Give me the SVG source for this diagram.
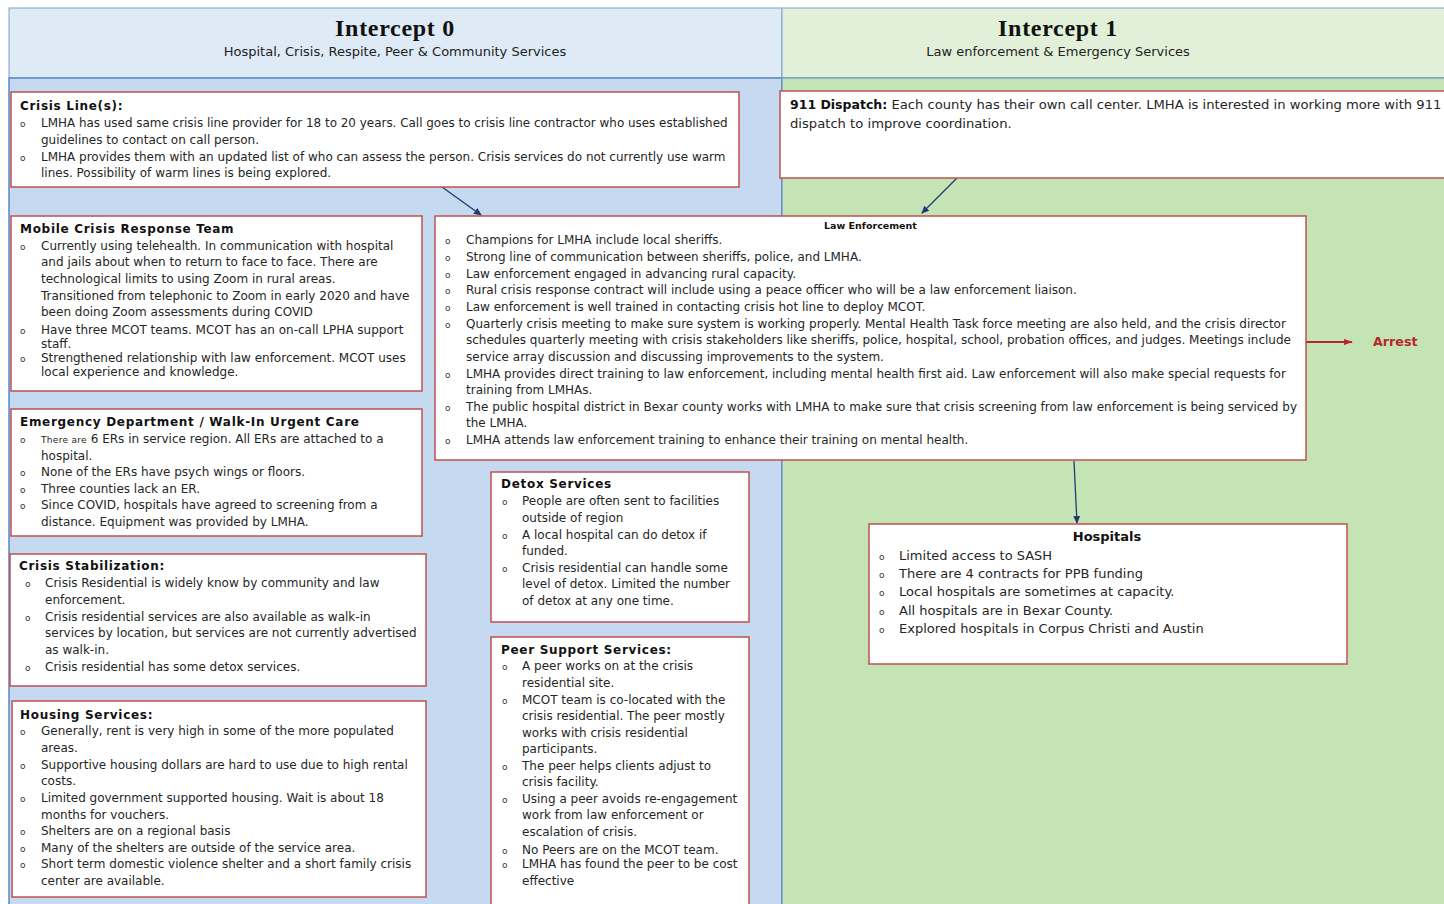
<svg xmlns="http://www.w3.org/2000/svg" width="1444" height="904" viewBox="0 0 1444 904">
<style>
.t{font-family:"DejaVu Sans",Verdana,sans-serif;font-size:12px;fill:#262626}
.b{font-weight:bold;fill:#111;letter-spacing:.7px}
.o{font-family:"DejaVu Sans",sans-serif;font-size:9px;fill:#333}
.box{fill:#fff;stroke:#c0504d;stroke-width:1.5}
.hd{font-family:"Liberation Serif","Times New Roman",serif;font-weight:bold;font-size:24px;letter-spacing:.7px;fill:#111;text-anchor:middle}
.sub{font-family:"DejaVu Sans",Verdana,sans-serif;font-size:13px;fill:#222;text-anchor:middle}
.h{font-size:13px}
</style>
<defs>
<marker id="ab" markerWidth="8" markerHeight="8" refX="7" refY="4" orient="auto" markerUnits="userSpaceOnUse"><path d="M0,0.5 L8,4 L0,7.5 z" fill="#1f3b73"/></marker>
<marker id="ar" markerWidth="9" markerHeight="8" refX="8" refY="4" orient="auto" markerUnits="userSpaceOnUse"><path d="M0,1 L9,4 L0,7 z" fill="#b8262c"/></marker>
</defs>
<rect width="1444" height="904" fill="#fff"/>
<g id="lanes">
<rect x="9" y="8" width="773" height="70" fill="#deebf7" stroke="#7f9fcb" stroke-width="1"/>
<rect x="9" y="78" width="773" height="830" fill="#c5daf0" stroke="#5b86c4" stroke-width="1.5"/>
<rect x="782" y="8" width="672" height="70" fill="#e2f0d9" stroke="#7f9fcb" stroke-width="1"/>
<rect x="782" y="78" width="672" height="830" fill="#c5e4b5" stroke="#5b86c4" stroke-width="1"/>
<text class="hd" x="395" y="36">Intercept 0</text>
<text class="sub" x="395" y="56">Hospital, Crisis, Respite, Peer &amp; Community Services</text>
<text class="hd" x="1058" y="36">Intercept 1</text>
<text class="sub" x="1058" y="56">Law enforcement &amp; Emergency Services</text>
</g>
<g id="connectors" fill="none">
<line x1="442" y1="187" x2="481" y2="215" stroke="#1f3b73" stroke-width="1.3" marker-end="url(#ab)"/>
<line x1="957" y1="178" x2="922" y2="213" stroke="#1f3b73" stroke-width="1.3" marker-end="url(#ab)"/>
<line x1="1074" y1="461" x2="1077" y2="523" stroke="#1f3b73" stroke-width="1.3" marker-end="url(#ab)"/>
<line x1="1306" y1="342" x2="1352" y2="342" stroke="#b8262c" stroke-width="2" marker-end="url(#ar)"/>
</g>
<g id="crisis-line">
<rect class="box" x="11" y="92" width="728" height="95"/>
<text class="t b" x="20" y="110">Crisis Line(s):</text>
<text class="o" x="20" y="127">o</text><text class="t" x="41" y="127" style="font-size:11.95px">LMHA has used same crisis line provider for 18 to 20 years. Call goes to crisis line contractor who uses established</text>
<text class="t" x="41" y="144">guidelines to contact on call person.</text>
<text class="o" x="20" y="161">o</text><text class="t" x="41" y="161">LMHA provides them with an updated list of who can assess the person. Crisis services do not currently use warm</text>
<text class="t" x="41" y="177">lines. Possibility of warm lines is being explored.</text>
</g>
<g id="mobile-crisis">
<rect class="box" x="11" y="216" width="411" height="175"/>
<text class="t b" x="20" y="233">Mobile Crisis Response Team</text>
<text class="o" x="20" y="250">o</text><text class="t" x="41" y="250">Currently using telehealth. In communication with hospital</text>
<text class="t" x="41" y="266">and jails about when to return to face to face. There are</text>
<text class="t" x="41" y="283">technological limits to using Zoom in rural areas.</text>
<text class="t" x="41" y="300">Transitioned from telephonic to Zoom in early 2020 and have</text>
<text class="t" x="41" y="316">been doing Zoom assessments during COVID</text>
<text class="o" x="20" y="334">o</text><text class="t" x="41" y="334">Have three MCOT teams. MCOT has an on-call LPHA support</text>
<text class="t" x="41" y="348">staff.</text>
<text class="o" x="20" y="362">o</text><text class="t" x="41" y="362">Strengthened relationship with law enforcement. MCOT uses</text>
<text class="t" x="41" y="376">local experience and knowledge.</text>
</g>
<g id="emergency-department">
<rect class="box" x="11" y="409" width="411" height="127"/>
<text class="t b" x="20" y="426">Emergency Department / Walk-In Urgent Care</text>
<text class="o" x="20" y="443">o</text><text class="t" x="41" y="443"><tspan font-size="9" letter-spacing="0.3">There are</tspan> 6 ERs in service region.  All ERs are attached to a</text>
<text class="t" x="41" y="460">hospital.</text>
<text class="o" x="20" y="476">o</text><text class="t" x="41" y="476">None of the ERs have psych wings or floors.</text>
<text class="o" x="20" y="493">o</text><text class="t" x="41" y="493">Three counties lack an ER.</text>
<text class="o" x="20" y="509">o</text><text class="t" x="41" y="509">Since COVID, hospitals have agreed to screening from a</text>
<text class="t" x="41" y="526">distance. Equipment was provided by LMHA.</text>
</g>
<g id="crisis-stabilization">
<rect class="box" x="10" y="554" width="416" height="132"/>
<text class="t b" x="19" y="570">Crisis Stabilization:</text>
<text class="o" x="25" y="587">o</text><text class="t" x="45" y="587">Crisis Residential is widely know by community and law</text>
<text class="t" x="45" y="604">enforcement.</text>
<text class="o" x="25" y="621">o</text><text class="t" x="45" y="621">Crisis residential services are also available as walk-in</text>
<text class="t" x="45" y="637">services by location, but services are not currently advertised</text>
<text class="t" x="45" y="654">as walk-in.</text>
<text class="o" x="25" y="671">o</text><text class="t" x="45" y="671">Crisis residential has some detox services.</text>
</g>
<g id="housing">
<rect class="box" x="12" y="701" width="414" height="196"/>
<text class="t b" x="20" y="719">Housing Services:</text>
<text class="o" x="20" y="735">o</text><text class="t" x="41" y="735">Generally, rent is very high in some of the more populated</text>
<text class="t" x="41" y="752">areas.</text>
<text class="o" x="20" y="769">o</text><text class="t" x="41" y="769">Supportive housing dollars are hard to use due to high rental</text>
<text class="t" x="41" y="785">costs.</text>
<text class="o" x="20" y="802">o</text><text class="t" x="41" y="802">Limited government supported housing. Wait is about 18</text>
<text class="t" x="41" y="819">months for vouchers.</text>
<text class="o" x="20" y="835">o</text><text class="t" x="41" y="835">Shelters are on a regional basis</text>
<text class="o" x="20" y="852">o</text><text class="t" x="41" y="852">Many of the shelters are outside of the service area.</text>
<text class="o" x="20" y="868">o</text><text class="t" x="41" y="868">Short term domestic violence shelter and a short family crisis</text>
<text class="t" x="41" y="885">center are available.</text>
</g>
<g id="law-enforcement">
<rect class="box" x="435" y="216" width="871" height="244"/>
<text class="t b" x="824" y="229" style="font-size:9.5px;letter-spacing:0">Law Enforcement</text>
<text class="o" x="445" y="244">o</text><text class="t" x="466" y="244">Champions for LMHA include local sheriffs.</text>
<text class="o" x="445" y="261">o</text><text class="t" x="466" y="261">Strong line of communication between sheriffs, police, and LMHA.</text>
<text class="o" x="445" y="278">o</text><text class="t" x="466" y="278">Law enforcement engaged in advancing rural capacity.</text>
<text class="o" x="445" y="294">o</text><text class="t" x="466" y="294">Rural crisis response contract will include using a peace officer who will be a law enforcement liaison.</text>
<text class="o" x="445" y="311">o</text><text class="t" x="466" y="311">Law enforcement is well trained in contacting crisis hot line to deploy MCOT.</text>
<text class="o" x="445" y="328">o</text><text class="t" x="466" y="328">Quarterly crisis meeting to make sure system is working properly. Mental Health Task force meeting are also held, and the crisis director</text>
<text class="t" x="466" y="344">schedules quarterly meeting with crisis stakeholders like sheriffs, police, hospital, school, probation offices, and judges. Meetings include</text>
<text class="t" x="466" y="361">service array discussion and discussing improvements to the system.</text>
<text class="o" x="445" y="378">o</text><text class="t" x="466" y="378">LMHA provides direct training to law enforcement, including mental health first aid. Law enforcement will also make special requests for</text>
<text class="t" x="466" y="394">training from LMHAs.</text>
<text class="o" x="445" y="411">o</text><text class="t" x="466" y="411">The public hospital district in Bexar county works with LMHA to make sure that crisis screening from law enforcement is being serviced by</text>
<text class="t" x="466" y="427">the LMHA.</text>
<text class="o" x="445" y="444">o</text><text class="t" x="466" y="444">LMHA attends law enforcement training to enhance their training on mental health.</text>
</g>
<g id="detox">
<rect class="box" x="491" y="472" width="258" height="150"/>
<text class="t b" x="501" y="488">Detox Services</text>
<text class="o" x="502" y="505">o</text><text class="t" x="522" y="505">People are often sent to facilities</text>
<text class="t" x="522" y="522">outside of region</text>
<text class="o" x="502" y="539">o</text><text class="t" x="522" y="539">A local hospital can do detox if</text>
<text class="t" x="522" y="555">funded.</text>
<text class="o" x="502" y="572">o</text><text class="t" x="522" y="572">Crisis residential can handle some</text>
<text class="t" x="522" y="588">level of detox. Limited the number</text>
<text class="t" x="522" y="605">of detox at any one time.</text>
</g>
<g id="peer-support">
<rect class="box" x="491" y="637" width="258" height="272"/>
<text class="t b" x="501" y="654">Peer Support Services:</text>
<text class="o" x="502" y="670">o</text><text class="t" x="522" y="670">A peer works on at the crisis</text>
<text class="t" x="522" y="687">residential site.</text>
<text class="o" x="502" y="704">o</text><text class="t" x="522" y="704">MCOT team is co-located with the</text>
<text class="t" x="522" y="720">crisis residential. The peer mostly</text>
<text class="t" x="522" y="737">works with crisis residential</text>
<text class="t" x="522" y="753">participants.</text>
<text class="o" x="502" y="770">o</text><text class="t" x="522" y="770">The peer helps clients adjust to</text>
<text class="t" x="522" y="786">crisis facility.</text>
<text class="o" x="502" y="803">o</text><text class="t" x="522" y="803">Using a peer avoids re-engagement</text>
<text class="t" x="522" y="819">work from law enforcement or</text>
<text class="t" x="522" y="836">escalation of crisis.</text>
<text class="o" x="502" y="854">o</text><text class="t" x="522" y="854">No Peers are on the MCOT team.</text>
<text class="o" x="502" y="868">o</text><text class="t" x="522" y="868">LMHA has found the peer to be cost</text>
<text class="t" x="522" y="885">effective</text>
</g>
<g id="dispatch-911">
<rect class="box" x="780" y="91" width="680" height="87"/>
<text class="t" x="790" y="109" style="font-size:13.15px"><tspan class="b" style="font-size:12.5px;letter-spacing:0">911 Dispatch:</tspan> Each county has their own call center. LMHA is interested in working more with 911</text>
<text class="t" x="790" y="128" style="font-size:13.15px">dispatch to improve coordination.</text>
</g>
<g id="hospitals">
<rect class="box" x="869" y="524" width="478" height="140"/>
<text class="t b h" x="1107" y="541" text-anchor="middle" style="letter-spacing:0">Hospitals</text>
<text class="o" x="879" y="560">o</text><text class="t h" x="899" y="560">Limited access to SASH</text>
<text class="o" x="879" y="578">o</text><text class="t h" x="899" y="578">There are 4 contracts for PPB funding</text>
<text class="o" x="879" y="596">o</text><text class="t h" x="899" y="596">Local hospitals are sometimes at capacity.</text>
<text class="o" x="879" y="615">o</text><text class="t h" x="899" y="615">All hospitals are in Bexar County.</text>
<text class="o" x="879" y="633">o</text><text class="t h" x="899" y="633">Explored hospitals in Corpus Christi and Austin</text>
</g>
<g id="arrest">
<text x="1373" y="346" font-family="DejaVu Sans,Verdana,sans-serif" font-weight="bold" font-size="12.7" fill="#b8262c">Arrest</text>
</g>
</svg>
